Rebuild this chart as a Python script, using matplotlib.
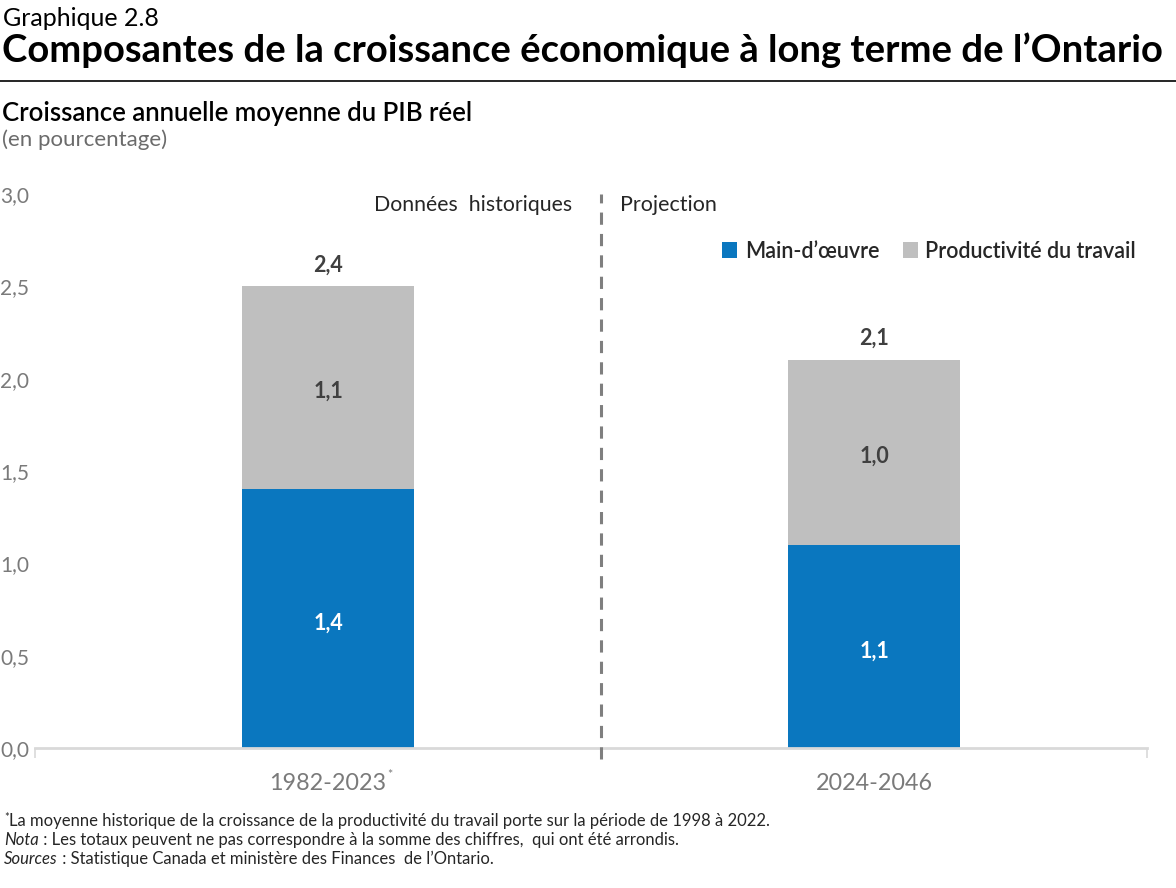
import matplotlib
matplotlib.use("Agg")
import matplotlib.pyplot as plt
from matplotlib.patches import Patch
from matplotlib.lines import Line2D

plt.rcParams['font.family'] = ['Lato', 'DejaVu Sans']

# data
periods = ["1982-2023", "2024-2046"]
labour = [1.4, 1.1]
productivity = [1.1, 1.0]
totals = ["2,4", "2,1"]
labour_lbl = ["1,4", "1,1"]
prod_lbl = ["1,1", "1,0"]
yticks = [0.0, 0.5, 1.0, 1.5, 2.0, 2.5, 3.0]

BLUE = "#0A77BF"
GREY = "#BFBFBF"
DARK = "#404040"
TICK = "#7a7a7a"

W, H = 1176, 888
fig = plt.figure(figsize=(W / 100, H / 100), dpi=100)

def fx(px):
    return px / W

def fy(py):
    return 1 - py / H

ax = fig.add_axes([fx(35), fy(748), fx(1147) - fx(35), fy(194) - fy(748)])

x = [0, 1]
ax.bar(x, labour, width=0.315, color=BLUE, zorder=2)
ax.bar(x, productivity, width=0.315, bottom=labour, color=GREY, zorder=2)

for i in range(2):
    ax.text(x[i], labour[i] / 2 - 0.025, labour_lbl[i], ha='center', va='center',
            color='white', fontsize=15.5, fontweight='bold')
    ax.text(x[i], labour[i] + productivity[i] / 2 - 0.02, prod_lbl[i], ha='center', va='center',
            color=DARK, fontsize=15.5, fontweight='bold')
    ax.text(x[i], labour[i] + productivity[i] + 0.06, totals[i], ha='center', va='bottom',
            color=DARK, fontsize=15.5, fontweight='bold')

ax.set_xlim(-0.537, 1.5)
ax.set_ylim(0, 3)

for s in ['top', 'right', 'left']:
    ax.spines[s].set_visible(False)
ax.spines['bottom'].set_color('#d9d9d9')
ax.spines['bottom'].set_linewidth(2)

ax.set_yticks(yticks)
ax.set_yticklabels([f"{v:.1f}".replace('.', ',') for v in yticks])
ax.tick_params(axis='y', length=0, pad=4, labelsize=15, labelcolor=TICK)

ax.set_xticks(x)
ax.set_xticklabels(["", ""])
ax.tick_params(axis='x', which='major', length=0)
ax.set_xticks([-0.537, 1.5], minor=True)
ax.tick_params(axis='x', which='minor', length=7, width=1.2, color='#d9d9d9')

# divider between history and projection
ax.plot([0.5, 0.5], [-0.06, 3.0], color='#7f7f7f', lw=2.2, ls=(0, (4, 3)),
        clip_on=False, zorder=3)
ax.text(0.447, 2.94, "Données  historiques", ha='right', va='center', fontsize=15.3, color='#262626')
ax.text(0.535, 2.94, "Projection", ha='left', va='center', fontsize=15.5, color='#262626')

handles = [Patch(facecolor=BLUE, edgecolor='none'), Patch(facecolor=GREY, edgecolor='none')]
leg = ax.legend(handles, ["Main-d\u2019\u0153uvre", "Productivité du travail"], ncol=2,
                frameon=False, loc='center right', bbox_to_anchor=(0.998, 0.897),
                handlelength=0.7, handleheight=0.7, handletextpad=0.35,
                columnspacing=1.1, borderaxespad=0,
                prop={'size': 15.5, 'weight': 'semibold'})
for t in leg.get_texts():
    t.set_color('#262626')

# titles
fig.text(fx(3), fy(18), "Graphique 2.8", fontsize=18, va='center', color='black')
fig.text(fx(2), fy(50), "Composantes de la croissance économique à long terme de l\u2019Ontario",
         fontsize=27.5, fontweight='bold', va='center', color='black')
fig.add_artist(Line2D([0, 1], [fy(81), fy(81)], color='black', lw=1.2))
fig.text(fx(2), fy(113), "Croissance annuelle moyenne du PIB réel", fontsize=18.5,
         fontweight='semibold', va='center', color='black')
fig.text(fx(2), fy(140), "(en pourcentage)", fontsize=16,
         va='center', color='#6b6b6b')

fig.canvas.draw()
renderer = fig.canvas.get_renderer()


def text_run(x_px, y_px, parts):
    # draw consecutive text pieces with different styles on one line
    cur = x_px
    for s, dy, kw in parts:
        t = fig.text(fx(cur), fy(y_px - dy), s, va='baseline', **kw)
        bb = t.get_window_extent(renderer=renderer)
        cur += bb.width


# category labels with superscript asterisk
cat_centers = [328, 874]
lab1 = fig.text(fx(cat_centers[0]), fy(790), periods[0], ha='center', va='baseline',
                fontsize=16.8, color=TICK)
bb = lab1.get_window_extent(renderer=renderer)
fig.text(fx(cat_centers[0]) + bb.width / 2 / W + 0.001, fy(779), "*", fontsize=9,
         va='baseline', color=TICK)
fig.text(fx(cat_centers[1]), fy(790), periods[1], ha='center', va='baseline',
         fontsize=16.8, color=TICK)

note_kw = dict(fontsize=12, color='#262626')
note_it = dict(fontsize=12, color='#262626', style='italic')
text_run(4, 826, [("*", 5, dict(fontsize=8, color='#262626')),
                  ("La moyenne historique de la croissance de la productivité du travail porte sur la période de 1998 à 2022.", 0, note_kw)])
text_run(4, 845, [("Nota", 0, note_it),
                  (" : Les totaux peuvent ne pas correspondre à la somme des chiffres,  qui ont été arrondis.", 0, note_kw)])
text_run(4, 864, [("Sources", 0, note_it),
                  (" : Statistique Canada et ministère des Finances  de l\u2019Ontario.", 0, note_kw)])

fig.savefig("out.png", dpi=100)
